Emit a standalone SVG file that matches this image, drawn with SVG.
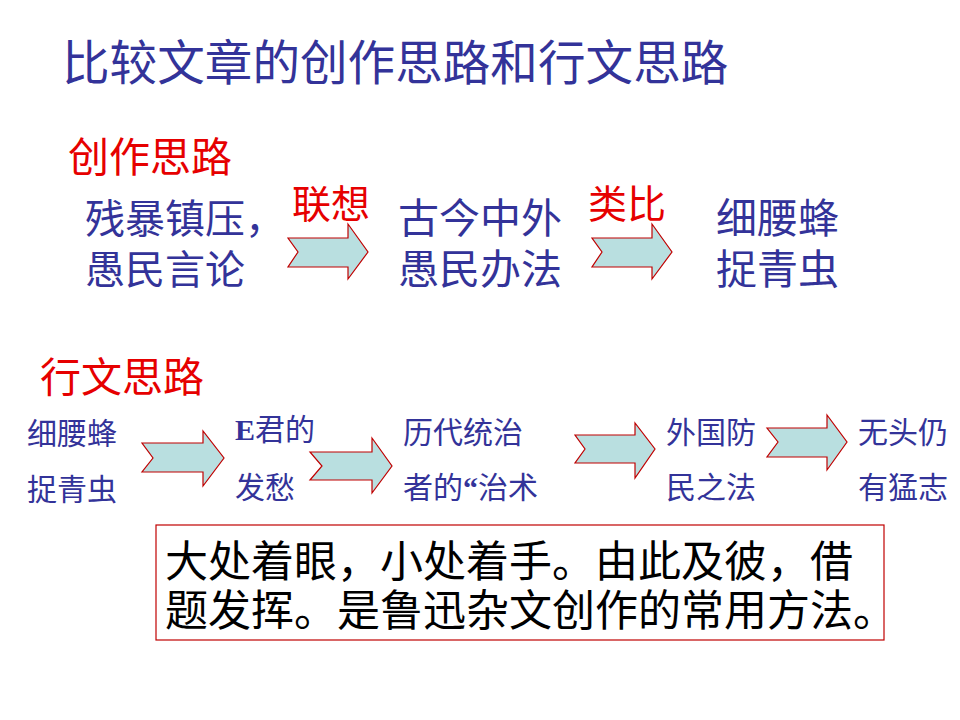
<svg xmlns="http://www.w3.org/2000/svg" width="960" height="720" viewBox="0 0 960 720">
<style>
text{font-family:"Noto Sans CJK SC","Noto Sans",sans-serif;}
.blue{fill:#333399;}
.red{fill:#e60000;}
.blk{fill:#000000;}
.arrow{fill:#b9dfe0;stroke:#c00000;stroke-width:1.2;stroke-linejoin:miter;}
.lat{font-family:"Liberation Serif",serif;font-weight:bold;}
</style>
<rect width="960" height="720" fill="#ffffff"/>
<g id="title"><text x="62" y="80" font-size="47.6" class="blue">比较文章的创作思路和行文思路</text></g>

<g id="label-creation"><text x="68" y="172" font-size="41" class="red">创作思路</text></g>
<g id="node-c1"><text x="85" y="233" font-size="40" class="blue">残暴镇压，</text><text x="85" y="284" font-size="40" class="blue">愚民言论</text></g>
<g id="node-c2"><text x="398" y="233" font-size="41" class="blue">古今中外</text><text x="398" y="284" font-size="41" class="blue">愚民办法</text></g>
<g id="node-c3"><text x="716" y="233" font-size="41" class="blue">细腰蜂</text><text x="716" y="284" font-size="41" class="blue">捉青虫</text></g>

<g id="label-writing"><text x="40" y="392" font-size="41" class="red">行文思路</text></g>
<g id="node-w1"><text x="27" y="444" font-size="30" class="blue">细腰蜂</text><text x="27" y="500" font-size="30" class="blue">捉青虫</text></g>
<g id="node-w2"><text x="235" y="440" font-size="30" class="blue"><tspan class="lat">E</tspan>君的</text><text x="235" y="498" font-size="30" class="blue">发愁</text></g>
<g id="node-w3"><text x="403" y="443" font-size="30" class="blue">历代统治</text><text x="403" y="498" font-size="30" class="blue">者的<tspan class="lat">“</tspan>治术</text></g>
<g id="node-w4"><text x="666" y="443" font-size="30" class="blue">外国防</text><text x="666" y="498" font-size="30" class="blue">民之法</text></g>
<g id="node-w5"><text x="858" y="443" font-size="30" class="blue">无头仍</text><text x="858" y="498" font-size="30" class="blue">有猛志</text></g>

<g id="connectors">
  <text x="292" y="218" font-size="39" class="red">联想</text>
  <polygon class="arrow" points="288,238 348,238 348,224 368,252 348,279 348,267 288,267 298,252"/>
  <text x="588" y="218" font-size="39" class="red">类比</text>
  <polygon class="arrow" points="592,238 652,238 652,224 672,252 652,279 652,267 592,267 602,252"/>
  <polygon class="arrow" points="142,443 203,443 203,431 224,458 203,486 203,472 142,472 153,458"/>
  <polygon class="arrow" points="310,452 372,452 372,438 392,466 372,493 372,480 310,480 322,466"/>
  <polygon class="arrow" points="575,435 635,435 635,423 655,449 635,478 635,463 575,463 585,449"/>
  <polygon class="arrow" points="767,428 827,428 827,415 847,442 827,470 827,457 767,457 778,442"/>
</g>

<g id="summary">
  <rect x="156" y="525" width="728" height="115" fill="none" stroke="#c00000" stroke-width="1.2"/>
  <text x="165" y="577" font-size="43" class="blk">大处着眼，小处着手。由此及彼，借</text>
  <text x="165" y="626" font-size="43" class="blk">题发挥。是鲁迅杂文创作的常用方法。</text>
</g>
</svg>
